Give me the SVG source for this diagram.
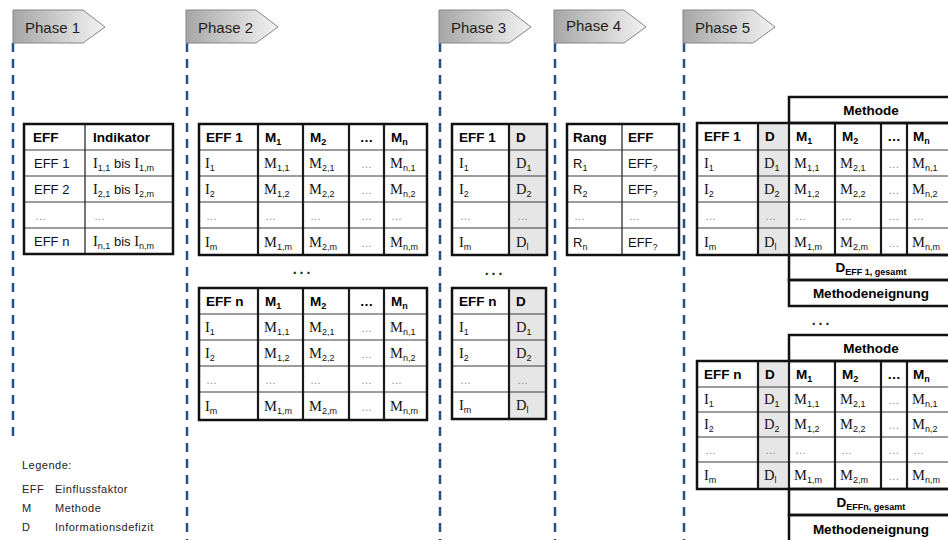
<svg xmlns="http://www.w3.org/2000/svg" width="948" height="540" viewBox="0 0 948 540">
  <defs>
    <linearGradient id="tabFill" x1="0" y1="0" x2="1" y2="0">
      <stop offset="0" stop-color="#a6a6a6"/>
      <stop offset="1" stop-color="#f3f3f3"/>
    </linearGradient>
    <path id="tabShape" d="M0,0 H70 L92,17 L70,33 H0 Z"/>
  </defs>
  <style>
    .tab{fill:url(#tabFill);stroke:#858585;stroke-width:1}
    .tabtxt{font-family:"Liberation Sans",Arial,sans-serif;font-size:15px;fill:#1e1e1e}
    .phase{stroke:#23508a;stroke-width:2.5;stroke-dasharray:9 7;fill:none}
    .frame{fill:none;stroke:#111;stroke-width:2.5}
    .row{stroke:#3a3a3a;stroke-width:1;fill:none}
    .col{stroke:#1a1a1a;stroke-width:2.2;fill:none}
    .thin{stroke:#2a2a2a;stroke-width:1.3;fill:none}
    .shade{fill:#e6e6e6}
    .hd{font-family:"Liberation Sans",Arial,sans-serif;font-weight:bold;font-size:13.5px;fill:#000}
    .sn{font-family:"Liberation Sans",Arial,sans-serif;font-size:13px;fill:#111}
    .sf{font-family:"Liberation Serif","Times New Roman",serif;font-size:14.5px;fill:#111}
    .sub{font-family:"Liberation Sans",Arial,sans-serif;font-size:9px}
    .el{font-family:"Liberation Sans",Arial,sans-serif;font-size:11px;fill:#8a8a8a}
    .dots{font-family:"Liberation Sans",Arial,sans-serif;font-size:14px;font-weight:bold;fill:#222;letter-spacing:3px}
    .leg{font-family:"Liberation Sans",Arial,sans-serif;font-size:11px;fill:#222;letter-spacing:0.5px}
    .mid{text-anchor:middle}
  </style>
  <rect width="948" height="540" fill="#fff"/>

  <!-- phase separators -->
  <g id="phase-lines">
    <path class="phase" d="M13,43V440"/>
    <path class="phase" d="M187,43V540"/>
    <path class="phase" d="M440,43V540"/>
    <path class="phase" d="M555,43V540"/>
    <path class="phase" d="M684,43V540"/>
  </g>

  <!-- phase tabs -->
  <g id="tab-phase1"><use href="#tabShape" class="tab" x="13" y="10"/><text class="tabtxt" x="25" y="33">Phase 1</text></g>
  <g id="tab-phase2"><use href="#tabShape" class="tab" x="186" y="10"/><text class="tabtxt" x="198" y="33">Phase 2</text></g>
  <g id="tab-phase3"><use href="#tabShape" class="tab" x="439" y="10"/><text class="tabtxt" x="451" y="33">Phase 3</text></g>
  <g id="tab-phase4"><use href="#tabShape" class="tab" x="554" y="10"/><text class="tabtxt" x="566" y="31">Phase 4</text></g>
  <g id="tab-phase5"><use href="#tabShape" class="tab" x="683" y="10"/><text class="tabtxt" x="695" y="33">Phase 5</text></g>

  <!-- Phase 1: influence factors and indicators -->
  <g id="phase1-table">
    <path class="row" d="M24,150H173M24,176H173M24,202H173M24,228H173"/>
    <path class="thin" d="M85,124V254"/>
    <rect class="frame" x="24" y="124" width="149" height="130"/>
    <text class="hd" x="33" y="142">EFF</text>
    <text class="hd" x="93" y="142">Indikator</text>
    <text class="sn" x="34" y="168">EFF 1</text>
    <text class="sf" x="93" y="168">I<tspan class="sub" dy="3">1,1</tspan><tspan class="sn" dy="-3"> bis </tspan>I<tspan class="sub" dy="3">1,m</tspan></text>
    <text class="sn" x="34" y="194">EFF 2</text>
    <text class="sf" x="93" y="194">I<tspan class="sub" dy="3">2,1</tspan><tspan class="sn" dy="-3"> bis </tspan>I<tspan class="sub" dy="3">2,m</tspan></text>
    <text class="el" x="35" y="220">…</text>
    <text class="el" x="94" y="220">…</text>
    <text class="sn" x="34" y="246">EFF n</text>
    <text class="sf" x="93" y="246">I<tspan class="sub" dy="3">n,1</tspan><tspan class="sn" dy="-3"> bis </tspan>I<tspan class="sub" dy="3">n,m</tspan></text>
  </g>

  <!-- Phase 2: method matrices -->
  <g id="phase2-table-eff1">
    <path class="row" d="M199,150H427M199,176H427M199,202H427M199,228H427"/>
    <path class="col" d="M258,124V255M303,124V255M349,124V255M384,124V255"/>
    <rect class="frame" x="199" y="124" width="228" height="131"/>
    <text class="hd" x="206" y="142">EFF 1</text>
    <text class="hd" x="265" y="142">M<tspan class="sub" dy="3">1</tspan></text>
    <text class="hd" x="310" y="142">M<tspan class="sub" dy="3">2</tspan></text>
    <text class="hd mid" x="366.5" y="142">…</text>
    <text class="hd" x="391" y="142">M<tspan class="sub" dy="3">n</tspan></text>
    <text class="sf" x="205" y="168">I<tspan class="sub" dy="3">1</tspan></text>
    <text class="sf" x="264" y="168">M<tspan class="sub" dy="3">1,1</tspan></text>
    <text class="sf" x="309" y="168">M<tspan class="sub" dy="3">2,1</tspan></text>
    <text class="el mid" x="366.5" y="168">…</text>
    <text class="sf" x="390" y="168">M<tspan class="sub" dy="3">n,1</tspan></text>
    <text class="sf" x="205" y="194">I<tspan class="sub" dy="3">2</tspan></text>
    <text class="sf" x="264" y="194">M<tspan class="sub" dy="3">1,2</tspan></text>
    <text class="sf" x="309" y="194">M<tspan class="sub" dy="3">2,2</tspan></text>
    <text class="el mid" x="366.5" y="194">…</text>
    <text class="sf" x="390" y="194">M<tspan class="sub" dy="3">n,2</tspan></text>
    <text class="el" x="206" y="220">…</text>
    <text class="el" x="265" y="220">…</text>
    <text class="el" x="310" y="220">…</text>
    <text class="el mid" x="366.5" y="220">…</text>
    <text class="el" x="391" y="220">…</text>
    <text class="sf" x="205" y="247">I<tspan class="sub" dy="3">m</tspan></text>
    <text class="sf" x="264" y="247">M<tspan class="sub" dy="3">1,m</tspan></text>
    <text class="sf" x="309" y="247">M<tspan class="sub" dy="3">2,m</tspan></text>
    <text class="el mid" x="366.5" y="247">…</text>
    <text class="sf" x="390" y="247">M<tspan class="sub" dy="3">n,m</tspan></text>
  </g>
  <text class="dots mid" x="303" y="274">...</text>
  <g id="phase2-table-effn">
    <path class="row" d="M199,314H427M199,340H427M199,366H427M199,392H427"/>
    <path class="col" d="M258,288V420M303,288V420M349,288V420M384,288V420"/>
    <rect class="frame" x="199" y="288" width="228" height="132"/>
    <text class="hd" x="206" y="306">EFF n</text>
    <text class="hd" x="265" y="306">M<tspan class="sub" dy="3">1</tspan></text>
    <text class="hd" x="310" y="306">M<tspan class="sub" dy="3">2</tspan></text>
    <text class="hd mid" x="366.5" y="306">…</text>
    <text class="hd" x="391" y="306">M<tspan class="sub" dy="3">n</tspan></text>
    <text class="sf" x="205" y="332">I<tspan class="sub" dy="3">1</tspan></text>
    <text class="sf" x="264" y="332">M<tspan class="sub" dy="3">1,1</tspan></text>
    <text class="sf" x="309" y="332">M<tspan class="sub" dy="3">2,1</tspan></text>
    <text class="el mid" x="366.5" y="332">…</text>
    <text class="sf" x="390" y="332">M<tspan class="sub" dy="3">n,1</tspan></text>
    <text class="sf" x="205" y="358">I<tspan class="sub" dy="3">2</tspan></text>
    <text class="sf" x="264" y="358">M<tspan class="sub" dy="3">1,2</tspan></text>
    <text class="sf" x="309" y="358">M<tspan class="sub" dy="3">2,2</tspan></text>
    <text class="el mid" x="366.5" y="358">…</text>
    <text class="sf" x="390" y="358">M<tspan class="sub" dy="3">n,2</tspan></text>
    <text class="el" x="206" y="384">…</text>
    <text class="el" x="265" y="384">…</text>
    <text class="el" x="310" y="384">…</text>
    <text class="el mid" x="366.5" y="384">…</text>
    <text class="el" x="391" y="384">…</text>
    <text class="sf" x="205" y="411">I<tspan class="sub" dy="3">m</tspan></text>
    <text class="sf" x="264" y="411">M<tspan class="sub" dy="3">1,m</tspan></text>
    <text class="sf" x="309" y="411">M<tspan class="sub" dy="3">2,m</tspan></text>
    <text class="el mid" x="366.5" y="411">…</text>
    <text class="sf" x="390" y="411">M<tspan class="sub" dy="3">n,m</tspan></text>
  </g>

  <!-- Phase 3: information deficits -->
  <g id="phase3-table-eff1">
    <rect class="shade" x="509" y="124" width="38" height="131"/>
    <path class="row" d="M452,150H547M452,176H547M452,202H547M452,228H547"/>
    <path class="col" d="M509,124V255"/>
    <rect class="frame" x="452" y="124" width="95" height="131"/>
    <text class="hd" x="459" y="142">EFF 1</text>
    <text class="hd" x="516" y="142">D</text>
    <text class="sf" x="459" y="168">I<tspan class="sub" dy="3">1</tspan></text>
    <text class="sf" x="516" y="168">D<tspan class="sub" dy="3">1</tspan></text>
    <text class="sf" x="459" y="194">I<tspan class="sub" dy="3">2</tspan></text>
    <text class="sf" x="516" y="194">D<tspan class="sub" dy="3">2</tspan></text>
    <text class="el" x="460" y="220">…</text>
    <text class="el" x="517" y="220">…</text>
    <text class="sf" x="459" y="247">I<tspan class="sub" dy="3">m</tspan></text>
    <text class="sf" x="516" y="247">D<tspan class="sub" dy="3">l</tspan></text>
  </g>
  <text class="dots mid" x="495" y="275">...</text>
  <g id="phase3-table-effn">
    <rect class="shade" x="509" y="288" width="37" height="131"/>
    <path class="row" d="M452,314H546M452,340H546M452,366H546M452,392H546"/>
    <path class="col" d="M509,288V419"/>
    <rect class="frame" x="452" y="288" width="94" height="131"/>
    <text class="hd" x="459" y="306">EFF n</text>
    <text class="hd" x="516" y="306">D</text>
    <text class="sf" x="459" y="332">I<tspan class="sub" dy="3">1</tspan></text>
    <text class="sf" x="516" y="332">D<tspan class="sub" dy="3">1</tspan></text>
    <text class="sf" x="459" y="358">I<tspan class="sub" dy="3">2</tspan></text>
    <text class="sf" x="516" y="358">D<tspan class="sub" dy="3">2</tspan></text>
    <text class="el" x="460" y="384">…</text>
    <text class="el" x="517" y="384">…</text>
    <text class="sf" x="459" y="410">I<tspan class="sub" dy="3">m</tspan></text>
    <text class="sf" x="516" y="410">D<tspan class="sub" dy="3">l</tspan></text>
  </g>

  <!-- Phase 4: ranking -->
  <g id="phase4-table">
    <path class="row" d="M567,150H679M567,176H679M567,202H679M567,228H679"/>
    <path class="thin" d="M622,124V255"/>
    <rect class="frame" x="567" y="124" width="112" height="131"/>
    <text class="hd" x="573" y="142">Rang</text>
    <text class="hd" x="628" y="142">EFF</text>
    <text class="sn" x="573" y="168">R<tspan class="sub" dy="3">1</tspan></text>
    <text class="sn" x="628" y="168">EFF<tspan class="sub" dy="3">?</tspan></text>
    <text class="sn" x="573" y="194">R<tspan class="sub" dy="3">2</tspan></text>
    <text class="sn" x="628" y="194">EFF<tspan class="sub" dy="3">?</tspan></text>
    <text class="el" x="574" y="220">…</text>
    <text class="el" x="629" y="220">…</text>
    <text class="sn" x="573" y="247">R<tspan class="sub" dy="3">n</tspan></text>
    <text class="sn" x="628" y="247">EFF<tspan class="sub" dy="3">?</tspan></text>
  </g>

  <!-- Phase 5: method suitability -->
  <g id="phase5-table-eff1">
    <rect class="frame" x="789" y="97" width="163" height="26"/>
    <text class="hd mid" x="871" y="115">Methode</text>
    <rect class="shade" x="758" y="123" width="31" height="132"/>
    <path class="row" d="M697,150H952M697,176H952M697,202H952M697,228H952"/>
    <path class="col" d="M758,123V255M789,123V255M835,123V255M881,123V255M907,123V255"/>
    <rect class="frame" x="697" y="123" width="255" height="132"/>
    <text class="hd" x="704" y="141">EFF 1</text>
    <text class="hd" x="765" y="141">D</text>
    <text class="hd" x="796" y="141">M<tspan class="sub" dy="3">1</tspan></text>
    <text class="hd" x="842" y="141">M<tspan class="sub" dy="3">2</tspan></text>
    <text class="hd mid" x="894" y="141">…</text>
    <text class="hd" x="913" y="141">M<tspan class="sub" dy="3">n</tspan></text>
    <text class="sf" x="704" y="168">I<tspan class="sub" dy="3">1</tspan></text>
    <text class="sf" x="764" y="168">D<tspan class="sub" dy="3">1</tspan></text>
    <text class="sf" x="794" y="168">M<tspan class="sub" dy="3">1,1</tspan></text>
    <text class="sf" x="840" y="168">M<tspan class="sub" dy="3">2,1</tspan></text>
    <text class="el mid" x="894" y="168">…</text>
    <text class="sf" x="912" y="168">M<tspan class="sub" dy="3">n,1</tspan></text>
    <text class="sf" x="704" y="194">I<tspan class="sub" dy="3">2</tspan></text>
    <text class="sf" x="764" y="194">D<tspan class="sub" dy="3">2</tspan></text>
    <text class="sf" x="794" y="194">M<tspan class="sub" dy="3">1,2</tspan></text>
    <text class="sf" x="840" y="194">M<tspan class="sub" dy="3">2,2</tspan></text>
    <text class="el mid" x="894" y="194">…</text>
    <text class="sf" x="912" y="194">M<tspan class="sub" dy="3">n,2</tspan></text>
    <text class="el" x="705" y="220">…</text>
    <text class="el" x="765" y="220">…</text>
    <text class="el" x="795" y="220">…</text>
    <text class="el" x="841" y="220">…</text>
    <text class="el mid" x="894" y="220">…</text>
    <text class="el" x="913" y="220">…</text>
    <text class="sf" x="704" y="247">I<tspan class="sub" dy="3">m</tspan></text>
    <text class="sf" x="764" y="247">D<tspan class="sub" dy="3">l</tspan></text>
    <text class="sf" x="794" y="247">M<tspan class="sub" dy="3">1,m</tspan></text>
    <text class="sf" x="840" y="247">M<tspan class="sub" dy="3">2,m</tspan></text>
    <text class="el mid" x="894" y="247">…</text>
    <text class="sf" x="912" y="247">M<tspan class="sub" dy="3">n,m</tspan></text>
    <rect class="frame" x="789" y="255" width="163" height="25"/>
    <text class="hd mid" x="871" y="272">D<tspan class="sub" dy="3">EFF 1, gesamt</tspan></text>
    <rect class="frame" x="789" y="280" width="163" height="26"/>
    <text class="hd mid" x="871" y="298">Methodeneignung</text>
  </g>
  <text class="dots mid" x="822" y="325">...</text>
  <g id="phase5-table-effn">
    <rect class="frame" x="789" y="335" width="163" height="26"/>
    <text class="hd mid" x="871" y="353">Methode</text>
    <rect class="shade" x="758" y="361" width="31" height="128"/>
    <path class="row" d="M697,387H952M697,412H952M697,437H952M697,462H952"/>
    <path class="col" d="M758,361V489M789,361V489M835,361V489M881,361V489M907,361V489"/>
    <rect class="frame" x="697" y="361" width="255" height="128"/>
    <text class="hd" x="704" y="379">EFF n</text>
    <text class="hd" x="765" y="379">D</text>
    <text class="hd" x="796" y="379">M<tspan class="sub" dy="3">1</tspan></text>
    <text class="hd" x="842" y="379">M<tspan class="sub" dy="3">2</tspan></text>
    <text class="hd mid" x="894" y="379">…</text>
    <text class="hd" x="913" y="379">M<tspan class="sub" dy="3">n</tspan></text>
    <text class="sf" x="704" y="404">I<tspan class="sub" dy="3">1</tspan></text>
    <text class="sf" x="764" y="404">D<tspan class="sub" dy="3">1</tspan></text>
    <text class="sf" x="794" y="404">M<tspan class="sub" dy="3">1,1</tspan></text>
    <text class="sf" x="840" y="404">M<tspan class="sub" dy="3">2,1</tspan></text>
    <text class="el mid" x="894" y="404">…</text>
    <text class="sf" x="912" y="404">M<tspan class="sub" dy="3">n,1</tspan></text>
    <text class="sf" x="704" y="429">I<tspan class="sub" dy="3">2</tspan></text>
    <text class="sf" x="764" y="429">D<tspan class="sub" dy="3">2</tspan></text>
    <text class="sf" x="794" y="429">M<tspan class="sub" dy="3">1,2</tspan></text>
    <text class="sf" x="840" y="429">M<tspan class="sub" dy="3">2,2</tspan></text>
    <text class="el mid" x="894" y="429">…</text>
    <text class="sf" x="912" y="429">M<tspan class="sub" dy="3">n,2</tspan></text>
    <text class="el" x="705" y="454">…</text>
    <text class="el" x="765" y="454">…</text>
    <text class="el" x="795" y="454">…</text>
    <text class="el" x="841" y="454">…</text>
    <text class="el mid" x="894" y="454">…</text>
    <text class="el" x="913" y="454">…</text>
    <text class="sf" x="704" y="480">I<tspan class="sub" dy="3">m</tspan></text>
    <text class="sf" x="764" y="480">D<tspan class="sub" dy="3">l</tspan></text>
    <text class="sf" x="794" y="480">M<tspan class="sub" dy="3">1,m</tspan></text>
    <text class="sf" x="840" y="480">M<tspan class="sub" dy="3">2,m</tspan></text>
    <text class="el mid" x="894" y="480">…</text>
    <text class="sf" x="912" y="480">M<tspan class="sub" dy="3">n,m</tspan></text>
    <rect class="frame" x="789" y="489" width="163" height="26"/>
    <text class="hd mid" x="871" y="507">D<tspan class="sub" dy="3">EFFn, gesamt</tspan></text>
    <rect class="frame" x="789" y="515" width="163" height="27"/>
    <text class="hd mid" x="871" y="534">Methodeneignung</text>
  </g>

  <!-- legend -->
  <g id="legend">
    <text class="leg" x="22" y="469">Legende:</text>
    <text class="leg" x="22" y="493">EFF</text>
    <text class="leg" x="55" y="493">Einflussfaktor</text>
    <text class="leg" x="22" y="512">M</text>
    <text class="leg" x="55" y="512">Methode</text>
    <text class="leg" x="22" y="531">D</text>
    <text class="leg" x="55" y="531">Informationsdefizit</text>
  </g>
</svg>
